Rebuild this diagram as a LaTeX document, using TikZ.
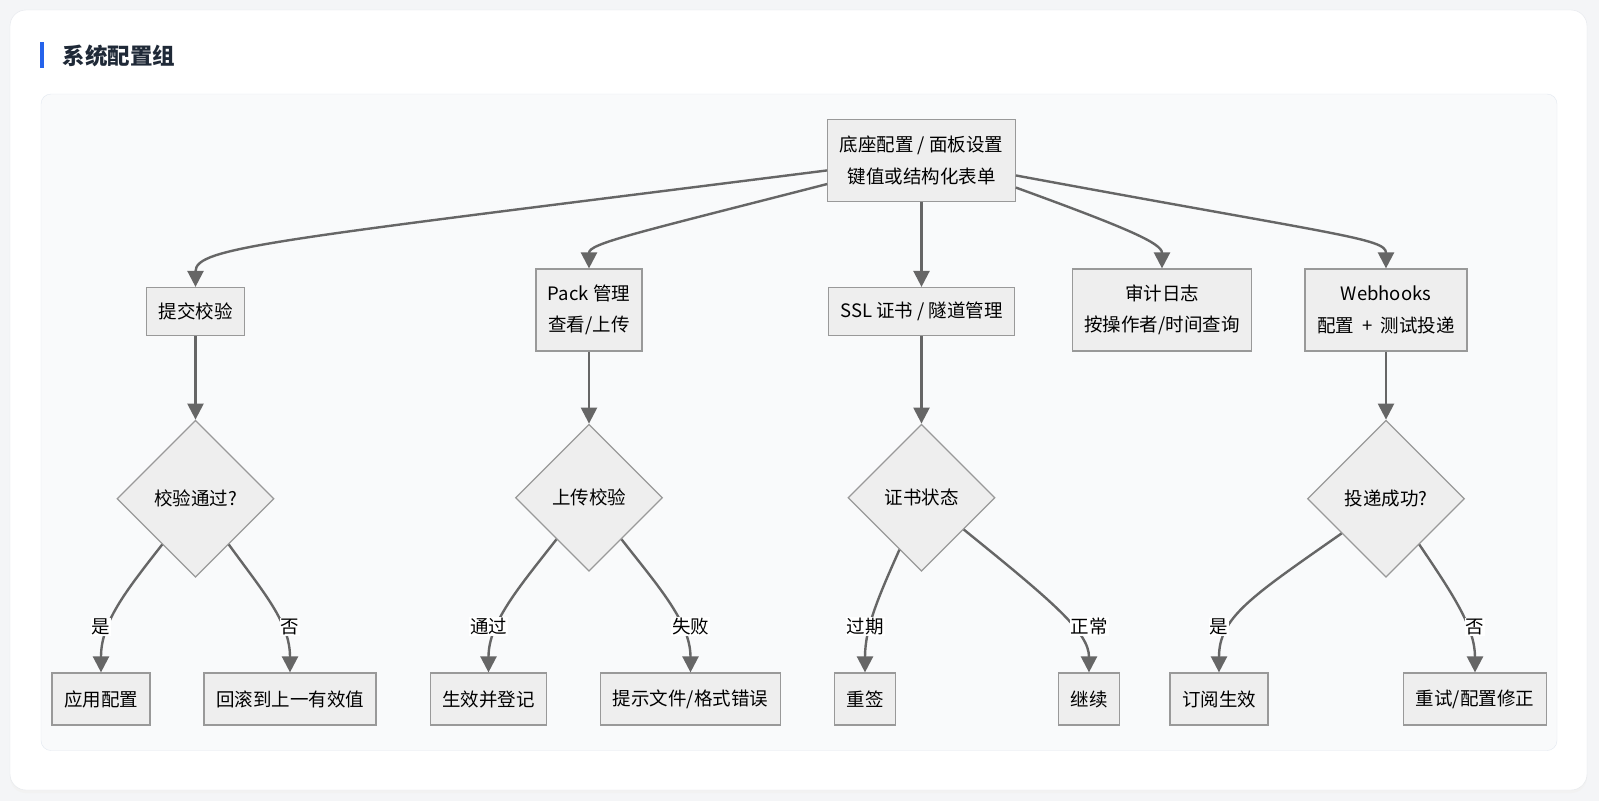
\documentclass[tikz,border=0pt]{standalone}
\usepackage{fontspec}
\setmainfont{Noto Sans CJK SC}
\usetikzlibrary{shapes.geometric,arrows.meta,positioning}
\definecolor{pagebg}{HTML}{F4F5F7}
\definecolor{cardline}{HTML}{E4E7EC}
\definecolor{panelbg}{HTML}{F9FAFB}
\definecolor{panelline}{HTML}{E2E8F0}
\definecolor{accent}{HTML}{2563EB}
\definecolor{titlefg}{HTML}{1F2937}
\definecolor{nodefill}{HTML}{EEEEEE}
\definecolor{nodeline}{HTML}{999999}
\definecolor{edgecol}{HTML}{666666}

\begin{document}
\begin{tikzpicture}[x=1pt,y=1pt,
  box/.style={draw=nodeline,fill=nodefill,line width=1.2pt,inner xsep=12pt,inner ysep=0pt,minimum height=48pt,align=center,text=black,font=\fontsize{18.5}{31.5}\selectfont},
  tall/.style={box,minimum height=82pt},
  leaf/.style={box,minimum height=52pt},
  check/.style={diamond,aspect=1,draw=nodeline,fill=nodefill,line width=1.2pt,inner sep=0pt,minimum width=#1,minimum height=#1,text=black,font=\fontsize{18.5}{22}\selectfont},
  check/.default=157pt,
  flow/.style={draw=edgecol,line width=2.4pt,-{Triangle[length=16pt,width=16pt]}},
  lbl/.style={fill=white,inner sep=1pt,text=black,font=\fontsize{18.5}{22}\selectfont}]
\useasboundingbox (0,0) rectangle (1599,-801);
\fill[pagebg] (0,0) rectangle (1599,-801);
\fill[black!5,rounded corners=16pt] (10,-12) rectangle (1587,-793);
\draw[cardline,fill=white,rounded corners=16pt] (10,-10) rectangle (1587,-790);
\draw[panelline,fill=panelbg,rounded corners=10pt] (41,-94) rectangle (1557,-750.5);
\fill[accent] (40,-42) rectangle (44,-68);
\node[anchor=west,inner sep=0pt,text=titlefg,font=\fontsize{22.5}{26}\selectfont\bfseries] (title) at (62.5,-56) {系统配置组};

\node[tall] (root) at (921.5,-160.5) {底座配置 / 面板设置\\键值或结构化表单};
\node[box] (chk) at (195.5,-311.5) {提交校验};
\node[tall] (pack) at (589,-310) {Pack 管理\\查看/上传};
\node[box] (ssl) at (921.5,-311.5) {SSL 证书 / 隧道管理};
\node[tall] (audit) at (1162,-310) {审计日志\\按操作者/时间查询};
\node[tall] (web) at (1386,-310) {Webhooks\\配置 ~+~ 测试投递};

\node[check] (d1) at (195.5,-498.7) {校验通过?};
\node[check=147pt] (d2) at (589,-497.7) {上传校验};
\node[check=147pt] (d3) at (921.5,-497.7) {证书状态};
\node[check] (d4) at (1386,-498.7) {投递成功?};

\node[leaf] (ok1) at (101,-699) {应用配置};
\node[leaf] (rb) at (290,-699) {回滚到上一有效值};
\node[leaf] (reg) at (488.5,-699) {生效并登记};
\node[leaf] (err) at (690.5,-699) {提示文件/格式错误};
\node[leaf] (resign) at (865,-699) {重签};
\node[leaf] (cont) at (1089,-699) {继续};
\node[leaf] (sub) at (1219,-699) {订阅生效};
\node[leaf] (retry) at (1475,-699) {重试/配置修正};

\draw[flow] (root.186) .. controls +(187.2:560) and +(90:40) .. (chk.north);
\draw[flow] (root.194) .. controls +(194.4:200) and +(90:25) .. (pack.north);
\draw[flow] (root) -- (ssl);
\draw[flow] (root.344) .. controls +(340:120) and +(90:25) .. (audit.north);
\draw[flow] (root.351) .. controls +(349.5:330) and +(90:30) .. (web.north);

\draw[flow] (chk) -- (d1);
\draw[flow] (pack) -- (d2);
\draw[flow] (ssl) -- (d3);
\draw[flow] (web) -- (d4);

\draw[flow] (d1.234) .. controls +(232:60) and +(90:50) .. (ok1.north);
\draw[flow] (d1.306) .. controls +(306:60) and +(90:50) .. (rb.north);
\draw[flow] (d2.232) .. controls +(232:60) and +(90:50) .. (reg.north);
\draw[flow] (d2.308) .. controls +(308:60) and +(90:50) .. (err.north);
\draw[flow] (d3.247) .. controls +(246:50) and +(90:45) .. (resign.north);
\draw[flow] (d3.323) .. controls +(321:115) and +(90:40) .. (cont.north);
\draw[flow] (d4.218) .. controls +(215:110) and +(90:55) .. (sub.north);
\draw[flow] (d4.306) .. controls +(304:60) and +(90:45) .. (retry.north);

\node[lbl,above=36pt of ok1] (l1) {是};
\node[lbl,above=36pt of rb] (l2) {否};
\node[lbl,above=36pt of reg] (l3) {通过};
\node[lbl,above=36pt of err] (l4) {失败};
\node[lbl,above=36pt of resign] (l5) {过期};
\node[lbl,above=36pt of cont] (l6) {正常};
\node[lbl,above=36pt of sub] (l7) {是};
\node[lbl,above=36pt of retry] (l8) {否};
\end{tikzpicture}
\end{document}
